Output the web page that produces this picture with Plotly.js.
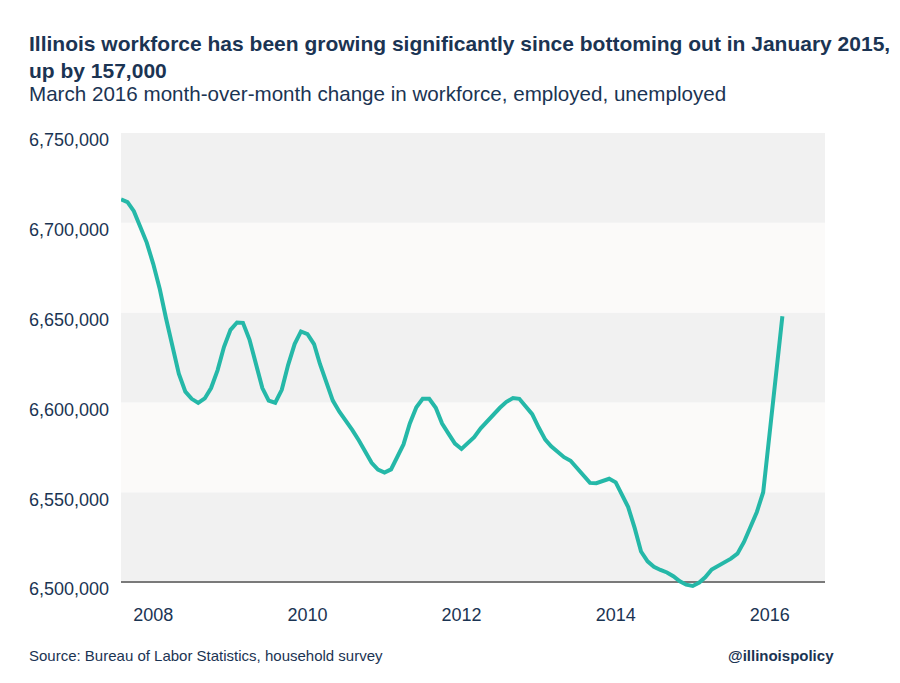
<!DOCTYPE html>
<html>
<head>
<meta charset="utf-8">
<script src="https://cdn.plot.ly/plotly-3.0.1.min.js"></script>
<style>
  html, body { margin: 0; padding: 0; background: #ffffff; }
  #chart { width: 900px; height: 683px; }
</style>
</head>
<body>
<div id="chart"></div>
<script>
// Monthly Illinois labor force, Aug 2007 – Dec 2015, then Mar 2016
const months = [
  '2007-08-01','2007-09-01','2007-10-01','2007-11-01','2007-12-01',
  '2008-01-01','2008-02-01','2008-03-01','2008-04-01','2008-05-01','2008-06-01','2008-07-01','2008-08-01','2008-09-01','2008-10-01','2008-11-01','2008-12-01',
  '2009-01-01','2009-02-01','2009-03-01','2009-04-01','2009-05-01','2009-06-01','2009-07-01','2009-08-01','2009-09-01','2009-10-01','2009-11-01','2009-12-01',
  '2010-01-01','2010-02-01','2010-03-01','2010-04-01','2010-05-01','2010-06-01','2010-07-01','2010-08-01','2010-09-01','2010-10-01','2010-11-01','2010-12-01',
  '2011-01-01','2011-02-01','2011-03-01','2011-04-01','2011-05-01','2011-06-01','2011-07-01','2011-08-01','2011-09-01','2011-10-01','2011-11-01','2011-12-01',
  '2012-01-01','2012-02-01','2012-03-01','2012-04-01','2012-05-01','2012-06-01','2012-07-01','2012-08-01','2012-09-01','2012-10-01','2012-11-01','2012-12-01',
  '2013-01-01','2013-02-01','2013-03-01','2013-04-01','2013-05-01','2013-06-01','2013-07-01','2013-08-01','2013-09-01','2013-10-01','2013-11-01','2013-12-01',
  '2014-01-01','2014-02-01','2014-03-01','2014-04-01','2014-05-01','2014-06-01','2014-07-01','2014-08-01','2014-09-01','2014-10-01','2014-11-01','2014-12-01',
  '2015-01-01','2015-02-01','2015-03-01','2015-04-01','2015-05-01','2015-06-01','2015-07-01','2015-08-01','2015-09-01','2015-10-01','2015-11-01','2015-12-01',
  '2016-03-01'
];
const workforce = [
  6713000, 6711500, 6706500, 6698000, 6689000,
  6677000, 6663000, 6647000, 6630000, 6616000, 6606000, 6602000, 6599700, 6602200, 6608000, 6618000, 6630800,
  6640400, 6644500, 6644300, 6635000, 6622500, 6608000, 6601000, 6599800, 6607000, 6620800, 6632500, 6639500,
  6638000, 6632500, 6621400, 6611000, 6601000, 6594800, 6590200, 6584700, 6578900, 6572800, 6566400, 6562600,
  6560900, 6562700, 6569300, 6576600, 6588300, 6597300, 6602000, 6602000, 6597000, 6588200, 6582500, 6577100,
  6574100, 6577100, 6580600, 6585600, 6589600, 6593400, 6597000, 6600300, 6602400, 6602000, 6597500, 6593500,
  6586000, 6579300, 6575600, 6572600, 6569500, 6567500, 6563500, 6559300, 6555200, 6555000, 6556200, 6557500,
  6555500, 6548500, 6541700, 6530000, 6517000, 6511500, 6508500, 6506700, 6505300, 6503200, 6500400, 6498500,
  6497800, 6499700, 6502600, 6507000, 6509000, 6510500, 6513000, 6515800, 6522300, 6530500, 6539000, 6550000,
  6648000
];
const yTicks = [6500000, 6550000, 6600000, 6650000, 6700000, 6750000];
const yTickLabels = ['6,500,000', '6,550,000', '6,600,000', '6,650,000', '6,700,000', '6,750,000'];
const xTicks = ['2008-01-01', '2010-01-01', '2012-01-01', '2014-01-01', '2016-01-01'];
const xTickLabels = ['2008', '2010', '2012', '2014', '2016'];

const titleText = 'Illinois workforce has been growing significantly since bottoming out in January 2015,<br>up by 157,000';
const subtitleText = 'March 2016 month-over-month change in workforce, employed, unemployed';
const sourceText = 'Source: Bureau of Labor Statistics, household survey';
const handleText = '@illinoispolicy';

const navy = '#1b3453';
const font = '"Liberation Sans", Arial, sans-serif';

// geometry of the plot area (pixels)
const W = 900, H = 683;
const mL = 121, mR = 75, mT = 133, mB = 92;
const plotW = W - mL - mR, plotH = H - mT - mB;
const px = (x) => (x - mL) / plotW;
const py = (y) => (H - mB - y) / plotH;

// Alternating horizontal bands between ticks
const shapes = [];
for (let k = 0; k < yTicks.length - 1; k++) {
  shapes.push({
    type: 'rect', xref: 'paper', yref: 'y', layer: 'below',
    x0: 0, x1: 1, y0: yTicks[k], y1: yTicks[k + 1],
    fillcolor: (k % 2 === 0) ? '#f1f1f1' : '#fbfaf9', line: { width: 0 }
  });
}
shapes.push({
  type: 'line', xref: 'paper', yref: 'y', layer: 'below',
  x0: 0, x1: 1, y0: yTicks[0], y1: yTicks[0],
  line: { color: '#7a7a7a', width: 2 }
});

const trace = {
  type: 'scatter', mode: 'lines',
  x: months, y: workforce,
  line: { color: '#25b8a8', width: 4, shape: 'linear' },
  hoverinfo: 'skip'
};

const layout = {
  width: W, height: H,
  margin: { l: mL, r: mR, t: mT, b: mB },
  paper_bgcolor: '#ffffff',
  plot_bgcolor: '#ffffff',
  showlegend: false,
  font: { family: font, color: navy },
  xaxis: {
    type: 'date',
    range: ['2007-08-01', '2016-09-19'],
    tickvals: xTicks, ticktext: xTickLabels,
    showgrid: false, zeroline: false, showline: false,
    ticks: '', ticklabelstandoff: 11,
    tickfont: { family: font, size: 18, color: navy }
  },
  yaxis: {
    range: [6495000, 6750000],
    tickvals: yTicks, ticktext: yTickLabels,
    showgrid: false, zeroline: false, showline: false,
    ticks: '', ticklabelstandoff: 11, ticklabelshift: 7,
    tickfont: { family: font, size: 18, color: navy }
  },
  shapes: shapes,
  annotations: [
    {
      text: '<b>' + titleText + '</b>', showarrow: false, align: 'left',
      xref: 'paper', yref: 'paper',
      x: px(27), xanchor: 'left',
      y: py(57), yanchor: 'middle',
      font: { family: font, size: 21, color: navy }
    },
    {
      text: subtitleText, showarrow: false,
      xref: 'paper', yref: 'paper',
      x: px(27), xanchor: 'left',
      y: py(93), yanchor: 'middle',
      font: { family: font, size: 20.6, color: navy }
    },
    {
      text: sourceText, showarrow: false,
      xref: 'paper', yref: 'paper',
      x: px(27), xanchor: 'left',
      y: py(655), yanchor: 'middle',
      font: { family: font, size: 15, color: navy }
    },
    {
      text: '<b>' + handleText + '</b>', showarrow: false,
      xref: 'paper', yref: 'paper',
      x: px(836), xanchor: 'right',
      y: py(655), yanchor: 'middle',
      font: { family: font, size: 15, color: navy }
    }
  ]
};

Plotly.newPlot('chart', [trace], layout, { displayModeBar: false, staticPlot: true });
</script>
</body>
</html>
